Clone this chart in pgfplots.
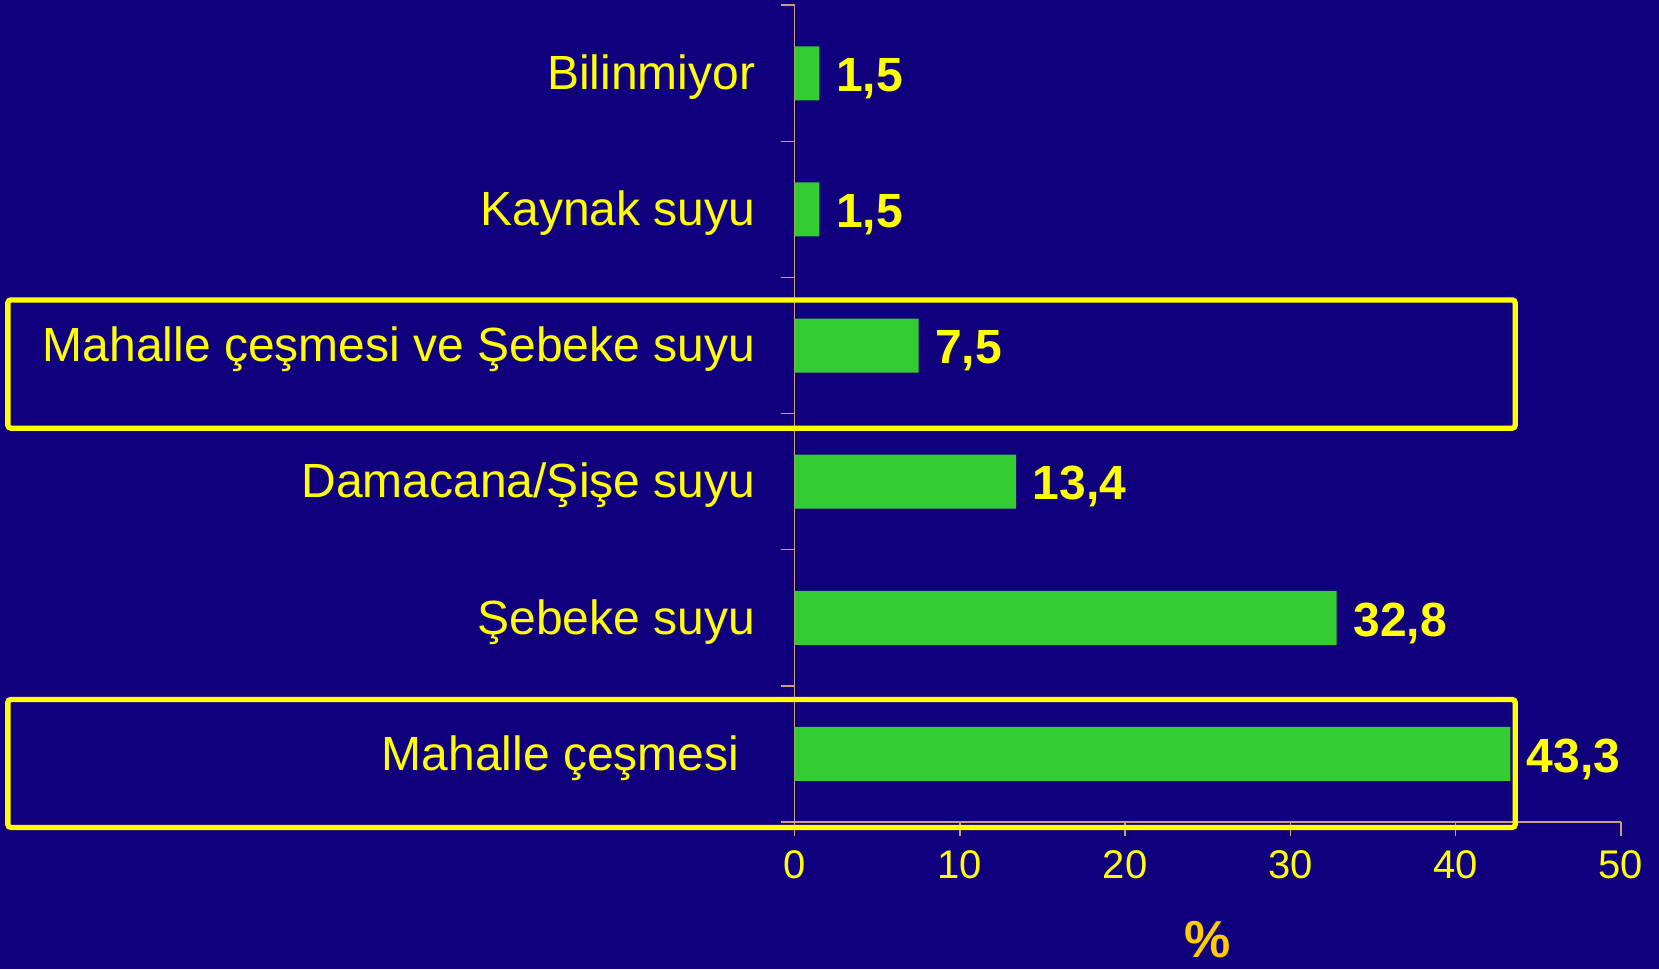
\documentclass[border=0pt]{standalone}
\usepackage{fontspec}
\setmainfont{Liberation Sans}
\usepackage{pgfplots}
\usepackage{pgfplotstable}
\pgfplotsset{compat=1.18}
\definecolor{bg}{HTML}{11007E}
\definecolor{bargreen}{HTML}{33CC33}
\definecolor{axcol}{HTML}{C8A07A}
\definecolor{ylw}{HTML}{FFFF00}
\definecolor{pct}{HTML}{FFCC00}
\pgfplotstableread{
y x label
0 43.3 43,3
1 32.8 32,8
2 13.4 13,4
3 7.5 7,5
4 1.5 1,5
5 1.5 1,5
}\datatable
\begin{document}
\begin{tikzpicture}
\fill[bg] (0,0) rectangle (829.5pt,484.5pt);
\useasboundingbox (0,0) rectangle (829.5pt,484.5pt);
\begin{axis}[
  at={(397.3pt,73.5pt)}, anchor=south west,
  scale only axis, width=413.2pt, height=408.4pt,
  xbar, bar width=27pt,
  xmin=0, xmax=50, ymin=-0.5, ymax=5.5,
  axis x line*=bottom, axis y line*=left,
  axis line style={draw=axcol, line width=0.75pt},
  clip=false,
  tick align=outside,
  major tick length=0pt, minor tick length=7pt,
  tick style={draw=axcol, line width=0.75pt},
  xtick={0,10,...,50},
  minor xtick={0,10,...,50},
  ytick={0,...,5},
  minor ytick={-0.5,0.5,...,5.5},
  yticklabels={{Mahalle çeşmesi\kern8pt},Şebeke suyu,Damacana/Şişe suyu,Mahalle çeşmesi ve Şebeke suyu,Kaynak suyu,Bilinmiyor},
  yticklabel style={font=\fontsize{24}{28}\selectfont, text=ylw, xshift=-16.2pt, yshift=-2pt},
  xticklabel style={font=\fontsize{20}{24}\selectfont, text=ylw, yshift=-11pt},
  /pgf/number format/assume math mode=true,
  xlabel={\%},
  xlabel style={at={(axis description cs:0.5,0)}, anchor=center, inner sep=0pt, yshift=-59pt, font=\bfseries\fontsize{26}{30}\selectfont, text=pct},
  point meta=explicit symbolic,
  nodes near coords,
  every node near coord/.style={anchor=west, font=\bfseries\fontsize{24}{28}\selectfont, text=ylw, xshift=4.8pt, yshift=-2.6pt},
]
\addplot[fill=bargreen, draw=none] table[x=x, y=y, meta=label] {\datatable};
\draw[ylw, line width=2.65pt, rounded corners=1.5pt] (axis cs:-47.6,2.393) rectangle (axis cs:43.6,3.335);
\draw[ylw, line width=2.65pt, rounded corners=1.5pt] (axis cs:-47.6,-0.54) rectangle (axis cs:43.6,0.40);
\end{axis}
\end{tikzpicture}
\end{document}
